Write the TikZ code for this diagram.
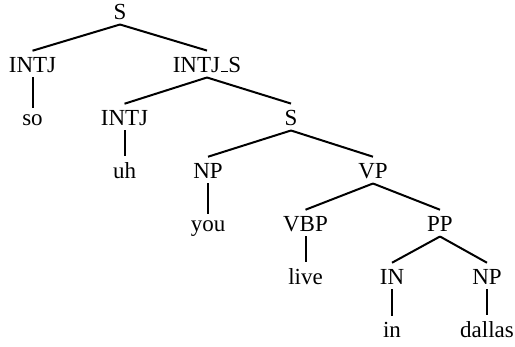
\documentclass[tikz,border=0pt]{standalone}
\usepackage{fontspec}
\setmainfont{Liberation Serif}
\begin{document}
\begin{tikzpicture}[x=1pt,y=-1pt,
  lbl/.style={anchor=base,inner sep=0pt,font=\fontsize{23}{26}\selectfont},
  branch/.style={line width=2pt}]
\useasboundingbox (0,0) rectangle (515,347);
% row baselines: 19.5 + 53k
\node[lbl] (s0)   at (120,19.5)  {S};
\node[lbl] (ij1)  at (32.5,72.5) {INTJ};
\node[lbl] (ijs)  at (207,72.5)  {INTJ\kern.06em\rule{.3em}{1.2pt}S};
\node[lbl] (so)   at (32.5,125.5) {so};
\node[lbl] (ij2)  at (124.5,125.5) {INTJ};
\node[lbl] (s1)   at (291,125.5) {S};
\node[lbl] (uh)   at (124.5,178.5) {uh};
\node[lbl] (np1)  at (208,178.5) {NP};
\node[lbl] (vp)   at (373,178.5) {VP};
\node[lbl] (you)  at (208,231.5) {you};
\node[lbl] (vbp)  at (305.5,231.5) {VBP};
\node[lbl] (pp)   at (440,231.5) {PP};
\node[lbl] (live) at (305.5,284.5) {live};
\node[lbl] (in1)  at (392,284.5) {IN};
\node[lbl] (np2)  at (487,284.5) {NP};
\node[lbl] (in2)  at (392,337.5) {in};
\node[lbl] (dal)  at (487,337.5) {dallas};
% branches: from just below the parent's baseline to just above the child's top
\foreach \p/\c in {s0/ij1,s0/ijs,ij1/so,ijs/ij2,ijs/s1,ij2/uh,s1/np1,s1/vp,
                   np1/you,vp/vbp,vp/pp,vbp/live,pp/in1,pp/np2,in1/in2,np2/dal}
  \draw[branch] ([yshift=-5pt]\p.base) -- ([yshift=6.5pt]\c.north);
\end{tikzpicture}
\end{document}
